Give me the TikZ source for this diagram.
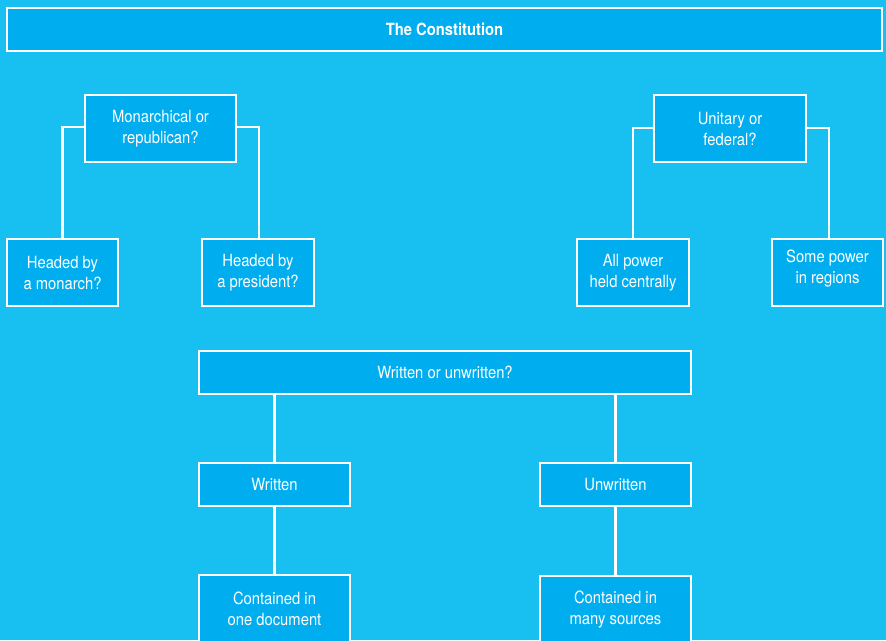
\documentclass[tikz,border=0pt]{standalone}
\usepackage{fontspec}
\setmainfont{TeX Gyre Heros}[FakeStretch=0.88]
\definecolor{pagebg}{RGB}{24,192,242}
\definecolor{boxfill}{RGB}{0,174,239}
\begin{document}
\begin{tikzpicture}[x=1pt,y=-1pt,
  box/.style={draw=white, line width=2.2pt, fill=boxfill, text=white,
    align=center, inner sep=0pt, font=\fontsize{16.8}{21}\selectfont},
  tall/.style={box, minimum height=67pt},
  flat/.style={box, minimum height=43pt},
  link/.style={draw=white, line width=2.2pt}]
% page background
\fill[pagebg] (0,0) rectangle (886,640);
\useasboundingbox (0,0) rectangle (886,640);
\clip (0,0) rectangle (886,640);

% title bar
\node[flat, minimum width=875pt, font=\fontsize{16.8}{21}\selectfont\bfseries] (title) at (444.5,29.5) {The Constitution};

% head of state branch
\node[tall, minimum width=151pt] (mon) at (160.5,128.5) {Monarchical or\\republican?};
\node[tall, minimum width=111pt] (hm) at (62.5,272.5) {Headed by\\a monarch?};
\node[tall, minimum width=112pt] (hp) at (258,272.5) {Headed by\\a president?};

% distribution of power branch
\node[tall, minimum width=152pt] (uni) at (730,128.5) {Unitary or\\federal?};
\node[tall, minimum width=112pt] (allp) at (633,272.5) {All power\\held centrally};
\node[tall, minimum width=111pt,
  label={[align=center, text=white, yshift=4pt, font=\fontsize{16.8}{21}\selectfont]center:Some power\\in regions}] (some) at (827.5,272.5) {};

% written / unwritten branch
\node[flat, minimum width=492pt] (wu) at (445,372.5) {Written or unwritten?};
\node[flat, minimum width=151pt] (wr) at (274.5,484.5) {Written};
\node[flat, minimum width=151pt] (uw) at (615.5,484.5) {Unwritten};
\node[tall, minimum width=151pt] (one) at (274.5,608.5) {Contained in\\one document};
\node[tall, minimum width=151pt] (many) at (615.5,609.5) {Contained in\\many sources};

% connectors
\draw[link] ([yshift=1.5pt]mon.west) -| (hm.north);
\draw[link] ([yshift=1.5pt]mon.east) -| ([xshift=1pt]hp.north);
\draw[link] ([yshift=0.5pt]uni.west) -| (allp.north);
\draw[link] ([yshift=0.5pt]uni.east) -| ([xshift=1.5pt]some.north);
\draw[link] (wr.north |- wu.south) -- (wr.north);
\draw[link] (uw.north |- wu.south) -- (uw.north);
\draw[link] (wr.south) -- (one.north);
\draw[link] (uw.south) -- (many.north);
\end{tikzpicture}
\end{document}
